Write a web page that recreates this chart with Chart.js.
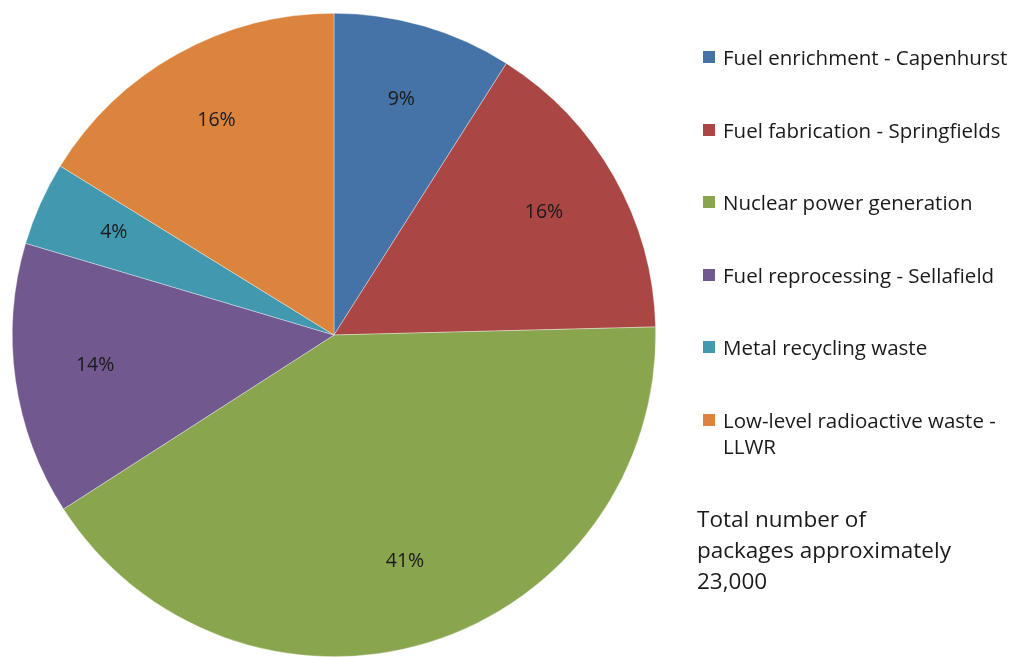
<!DOCTYPE html>
<html>
<head>
<meta charset="utf-8">
<script src="https://cdn.jsdelivr.net/npm/chart.js@4/dist/chart.umd.min.js"></script>
<style>
  html, body { margin: 0; padding: 0; background: #fff; }
  #wrap { position: relative; width: 1012px; height: 657px; overflow: hidden; font-family: "Open Sans", Lato, sans-serif; }
  #c { position: absolute; left: 0; top: 0; }
  .leg { position: absolute; left: 703px; color: #1a1a1a; font-size: 20.5px; line-height: 26px; }
  .leg .sw { position: absolute; left: 0; top: 7px; width: 12px; height: 12px; }
  .leg .tx { position: absolute; left: 20px; white-space: nowrap; }
  #note { position: absolute; left: 697px; top: 503px; font-size: 22.5px; line-height: 31px; color: #1a1a1a; }
</style>
</head>
<body>
<div id="wrap">
  <canvas id="c" width="1012" height="657"></canvas>
  <div id="legend"></div>
  <div id="note">Total number of<br>packages approximately<br>23,000</div>
</div>
<script>
const categories = [
  "Fuel enrichment - Capenhurst",
  "Fuel fabrication - Springfields",
  "Nuclear power generation",
  "Fuel reprocessing - Sellafield",
  "Metal recycling waste",
  "Low-level radioactive waste - LLWR"
];
const legendLines = [
  ["Fuel enrichment - Capenhurst"],
  ["Fuel fabrication - Springfields"],
  ["Nuclear power generation"],
  ["Fuel reprocessing - Sellafield"],
  ["Metal recycling waste"],
  ["Low-level radioactive waste -", "LLWR"]
];
const shares = [9.0, 15.6, 41.3, 13.7, 4.2, 16.2];
const percentLabels = ["9%", "16%", "41%", "14%", "4%", "16%"];
const colors = ["#4572A7", "#AA4643", "#89A54E", "#71588F", "#4198AF", "#DB843D"];

// HTML legend
const legendEl = document.getElementById('legend');
categories.forEach((name, i) => {
  const d = document.createElement('div');
  d.className = 'leg';
  d.style.top = (44 + i * 72.6) + 'px';
  const sw = document.createElement('div');
  sw.className = 'sw';
  sw.style.background = colors[i];
  const tx = document.createElement('div');
  tx.className = 'tx';
  tx.innerHTML = legendLines[i].join('<br>');
  d.appendChild(sw); d.appendChild(tx);
  legendEl.appendChild(d);
});

const labelPlugin = {
  id: 'sliceLabels',
  afterDatasetsDraw(chart) {
    const ctx = chart.ctx;
    const meta = chart.getDatasetMeta(0);
    ctx.save();
    ctx.font = '19.5px "Open Sans", Lato, sans-serif';
    ctx.fillStyle = '#1a1a1a';
    ctx.textAlign = 'center';
    ctx.textBaseline = 'middle';
    meta.data.forEach((arc, i) => {
      const p = arc.getProps(['startAngle', 'endAngle', 'outerRadius', 'x', 'y'], true);
      const a = (p.startAngle + p.endAngle) / 2;
      const r = p.outerRadius * 0.75;
      ctx.fillText(percentLabels[i], p.x + Math.cos(a) * r, p.y + Math.sin(a) * r - 4);
    });
    ctx.restore();
  }
};

new Chart(document.getElementById('c'), {
  type: 'pie',
  data: {
    labels: categories,
    datasets: [{
      data: shares,
      backgroundColor: colors,
      borderColor: 'rgba(255,255,255,0.6)',
      borderWidth: 0.6
    }]
  },
  options: {
    responsive: false,
    animation: false,
    layout: { padding: { left: 12, top: 13, right: 356, bottom: 0 } },
    plugins: { legend: { display: false }, tooltip: { enabled: false } }
  },
  plugins: [labelPlugin]
});
</script>
</body>
</html>
